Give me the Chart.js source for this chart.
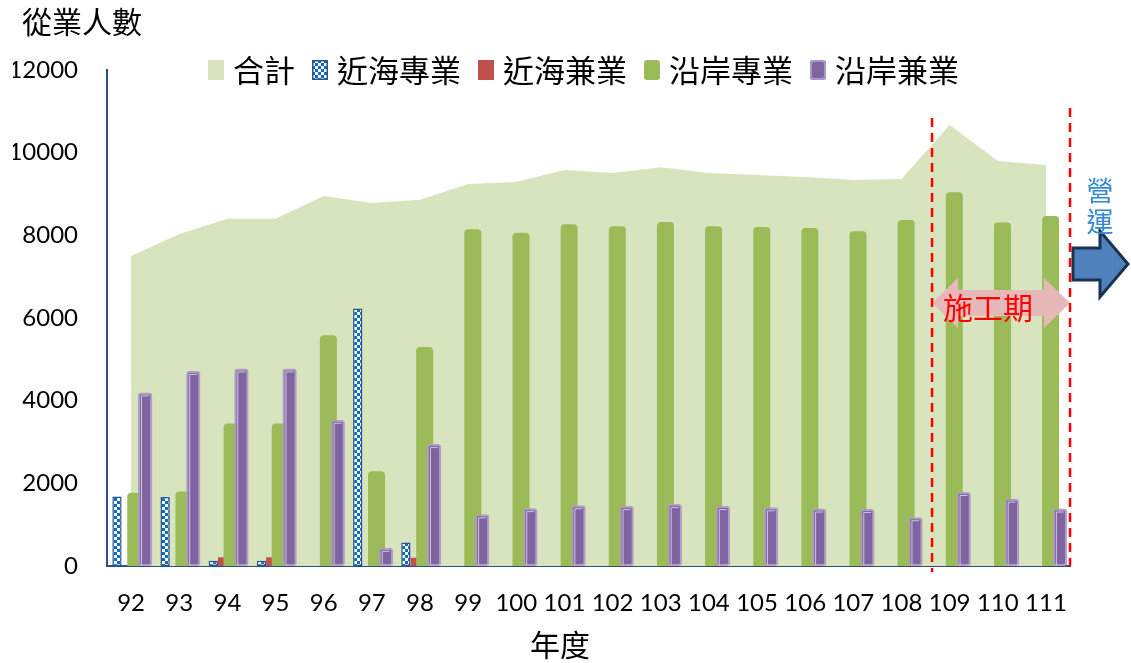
<!DOCTYPE html>
<html>
<head>
<meta charset="utf-8">
<script src="https://cdn.jsdelivr.net/npm/chart.js@4.4.1/dist/chart.umd.min.js"></script>
<style>
  html, body { margin: 0; padding: 0; background: #fff; }
  #c { display: block; }
</style>
</head>
<body>
<canvas id="c" width="1131" height="663"></canvas>
<script>
// 年度 (民國)
const years = ['92','93','94','95','96','97','98','99','100','101','102','103','104','105','106','107','108','109','110','111'];
const yTicks = [0, 2000, 4000, 6000, 8000, 10000, 12000];

// 從業人數
const total        = [7500, 8030, 8400, 8400, 8950, 8780, 8860, 9240, 9290, 9580, 9510, 9650, 9510, 9460, 9410, 9340, 9360, 10670, 9800, 9700];
const offshoreFull = [1680, 1670, 130, 130, 0, 6230, 570, 0, 0, 0, 0, 0, 0, 0, 0, 0, 0, 0, 0, 0];
const offshorePart = [0, 0, 210, 210, 0, 0, 200, 0, 0, 0, 0, 0, 0, 0, 0, 0, 0, 0, 0, 0];
const coastalFull  = [1770, 1800, 3450, 3450, 5580, 2290, 5300, 8150, 8060, 8270, 8220, 8320, 8220, 8200, 8180, 8100, 8370, 9040, 8310, 8470];
const coastalPart  = [4200, 4720, 4780, 4780, 3540, 440, 2950, 1250, 1400, 1470, 1450, 1500, 1450, 1420, 1390, 1380, 1180, 1790, 1630, 1390];

const buildStartYear = '109';

const CJK = "'Noto Sans CJK TC', 'Noto Sans CJK SC', sans-serif";
const NUM = "Lato, 'Open Sans', sans-serif";

const canvas = document.getElementById('c');
const ctx = canvas.getContext('2d');

// small blue/white checkerboard fill
function checkerPattern() {
  const tile = document.createElement('canvas');
  tile.width = 6; tile.height = 6;
  const g = tile.getContext('2d');
  g.fillStyle = '#ffffff'; g.fillRect(0, 0, 6, 6);
  g.fillStyle = '#0A6CC4'; g.fillRect(0, 0, 3, 3); g.fillRect(3, 3, 3, 3);
  return ctx.createPattern(tile, 'repeat');
}

function roundRectPath(c, x, y, w, h, r) {
  c.beginPath();
  c.moveTo(x + r, y);
  c.lineTo(x + w - r, y);
  c.arcTo(x + w, y, x + w, y + r, r);
  c.lineTo(x + w, y + h - r);
  c.arcTo(x + w, y + h, x + w - r, y + h, r);
  c.lineTo(x + r, y + h);
  c.arcTo(x, y + h, x, y + h - r, r);
  c.lineTo(x, y + r);
  c.arcTo(x, y, x + r, y, r);
  c.closePath();
}

const decor = {
  id: 'decor',
  // bars are painted in series order so later series sit on top
  beforeDatasetDraw(chart, args) {
    if (args.meta.type === 'bar') return false;
  },
  afterDatasetsDraw(chart) {
    const c = chart.ctx;
    chart.data.datasets.forEach((ds, i) => {
      const meta = chart.getDatasetMeta(i);
      if (meta.type !== 'bar' || !chart.isDatasetVisible(i)) return;
      meta.controller.draw();
      if (ds.innerHighlight) {
        c.save();
        c.strokeStyle = ds.innerHighlight;
        c.lineWidth = 1;
        meta.data.forEach(el => {
          const p = el.getProps(['x', 'y', 'base', 'width'], true);
          if (p.base - p.y < 6) return;
          const l = p.x - p.width / 2 + 3.5, r = p.x + p.width / 2 - 3.5, t = p.y + 3.5;
          c.beginPath();
          c.moveTo(l, p.base - 1);
          c.lineTo(l, t);
          c.lineTo(r, t);
          c.stroke();
        });
        c.restore();
      }
    });
  },
  afterDraw(chart) {
    const c = chart.ctx;
    const ca = chart.chartArea;
    const xs = chart.scales.x;
    const step = xs.getPixelForValue(1) - xs.getPixelForValue(0);
    const xStart = xs.getPixelForValue(years.indexOf(buildStartYear)) - 0.365 * step;
    const xEnd = ca.right;

    c.save();

    // 施工期 double arrow
    const ym = ca.top + 233, hh = 25, bh = 13, hl = 26;
    c.beginPath();
    c.moveTo(xStart, ym);
    c.lineTo(xStart + hl, ym - hh);
    c.lineTo(xStart + hl, ym - bh);
    c.lineTo(xEnd - hl, ym - bh);
    c.lineTo(xEnd - hl, ym - hh);
    c.lineTo(xEnd, ym);
    c.lineTo(xEnd - hl, ym + hh);
    c.lineTo(xEnd - hl, ym + bh);
    c.lineTo(xStart + hl, ym + bh);
    c.lineTo(xStart + hl, ym + hh);
    c.closePath();
    c.fillStyle = '#E6B9B8';
    c.fill();

    c.fillStyle = '#FF0000';
    c.font = '30px ' + CJK;
    c.textAlign = 'center';
    c.textBaseline = 'middle';
    c.fillText('施工期', xStart + 56, ym + 5);

    // dashed period boundaries
    c.strokeStyle = '#FF0000';
    c.lineWidth = 2.5;
    c.setLineDash([9, 6]);
    c.beginPath();
    c.moveTo(xStart, ca.top + 48);
    c.lineTo(xStart, ca.bottom + 6);
    c.moveTo(xEnd, ca.top + 38);
    c.lineTo(xEnd, ca.bottom);
    c.stroke();
    c.setLineDash([]);

    // 營運 arrow
    const by = ca.top + 194;
    c.beginPath();
    c.moveTo(xEnd + 3, by - 16);
    c.lineTo(xEnd + 30, by - 16);
    c.lineTo(xEnd + 30, by - 33);
    c.lineTo(xEnd + 58, by);
    c.lineTo(xEnd + 30, by + 33);
    c.lineTo(xEnd + 30, by + 16);
    c.lineTo(xEnd + 3, by + 16);
    c.closePath();
    c.fillStyle = '#4F81BD';
    c.fill();
    c.strokeStyle = '#1B3150';
    c.lineWidth = 3;
    c.lineJoin = 'miter';
    c.stroke();

    c.fillStyle = '#3388D5';
    c.font = '27px ' + CJK;
    c.fillText('營', xEnd + 30, ca.top + 121);
    c.fillText('運', xEnd + 30, ca.top + 152);

    // axis captions
    c.fillStyle = '#000';
    c.font = '30px ' + CJK;
    c.textAlign = 'left';
    c.fillText('從業人數', 22, 22);
    c.textAlign = 'center';
    c.fillText('年度', 560, 645);

    // legend
    let lx = 208;
    const ly = 70, bw = 16, bhh = 20;
    c.font = '31px ' + CJK;
    c.textAlign = 'left';
    chart.data.datasets.forEach(ds => {
      const r = ds.legendRadius || 0;
      roundRectPath(c, lx, ly - bhh / 2, bw, bhh, r);
      c.fillStyle = ds.backgroundColor;
      c.fill();
      if (ds.borderWidth && ds.borderColor) {
        c.lineWidth = ds.borderWidth;
        c.strokeStyle = ds.borderColor;
        roundRectPath(c, lx + ds.borderWidth / 2, ly - bhh / 2 + ds.borderWidth / 2, bw - ds.borderWidth, bhh - ds.borderWidth, r);
        c.stroke();
      }
      c.fillStyle = '#000';
      c.fillText(ds.label, lx + bw + 9, ly);
      lx += bw + 9 + c.measureText(ds.label).width + 17;
    });

    c.restore();
  }
};

new Chart(ctx, {
  type: 'bar',
  data: {
    labels: years,
    datasets: [
      {
        type: 'line', label: '合計', data: total,
        backgroundColor: '#D7E4BD', borderColor: 'rgba(0,0,0,0)', borderWidth: 0,
        pointRadius: 0, fill: 'origin', tension: 0, order: 1
      },
      {
        label: '近海專業', data: offshoreFull,
        backgroundColor: checkerPattern(), borderColor: '#26558F', borderWidth: 1.5,
        borderSkipped: false, barPercentage: 0.99
      },
      {
        label: '近海兼業', data: offshorePart,
        backgroundColor: '#C0504D', borderWidth: 0, barPercentage: 1.0
      },
      {
        label: '沿岸專業', data: coastalFull,
        backgroundColor: '#9BBB59', borderWidth: 0, borderRadius: 4,
        barPercentage: 1.81, legendRadius: 3
      },
      {
        label: '沿岸兼業', data: coastalPart,
        backgroundColor: '#8064A2', borderColor: 'rgba(172,154,200,0.95)', borderWidth: 2,
        borderSkipped: false, borderRadius: 3, barPercentage: 1.52,
        innerHighlight: 'rgba(235,228,242,0.75)', legendRadius: 3
      }
    ]
  },
  options: {
    responsive: false,
    animation: false,
    devicePixelRatio: 1,
    layout: { padding: { top: 70, right: 61, bottom: 47, left: 13 } },
    datasets: { bar: { categoryPercentage: 0.78 } },
    plugins: { legend: { display: false }, tooltip: { enabled: false } },
    scales: {
      x: {
        type: 'category',
        offset: true,
        z: 1,
        grid: { display: false, drawTicks: false },
        border: { display: true, color: '#2B4F86', width: 2 },
        ticks: { color: '#000', font: { family: NUM, size: 24 }, padding: 23, autoSkip: false, maxRotation: 0 },
        afterFit(s) { s.height = 50; }
      },
      y: {
        type: 'linear',
        min: 0, max: 12000,
        grid: { display: false, drawTicks: false },
        border: { display: true, color: '#2B4F86', width: 2 },
        ticks: { color: '#000', font: { family: NUM, size: 24 }, padding: 29, callback: v => String(v) },
        afterBuildTicks(s) { s.ticks = yTicks.map(v => ({ value: v })); },
        afterFit(s) { s.width = 94; }
      }
    }
  },
  plugins: [decor]
});
</script>
</body>
</html>
